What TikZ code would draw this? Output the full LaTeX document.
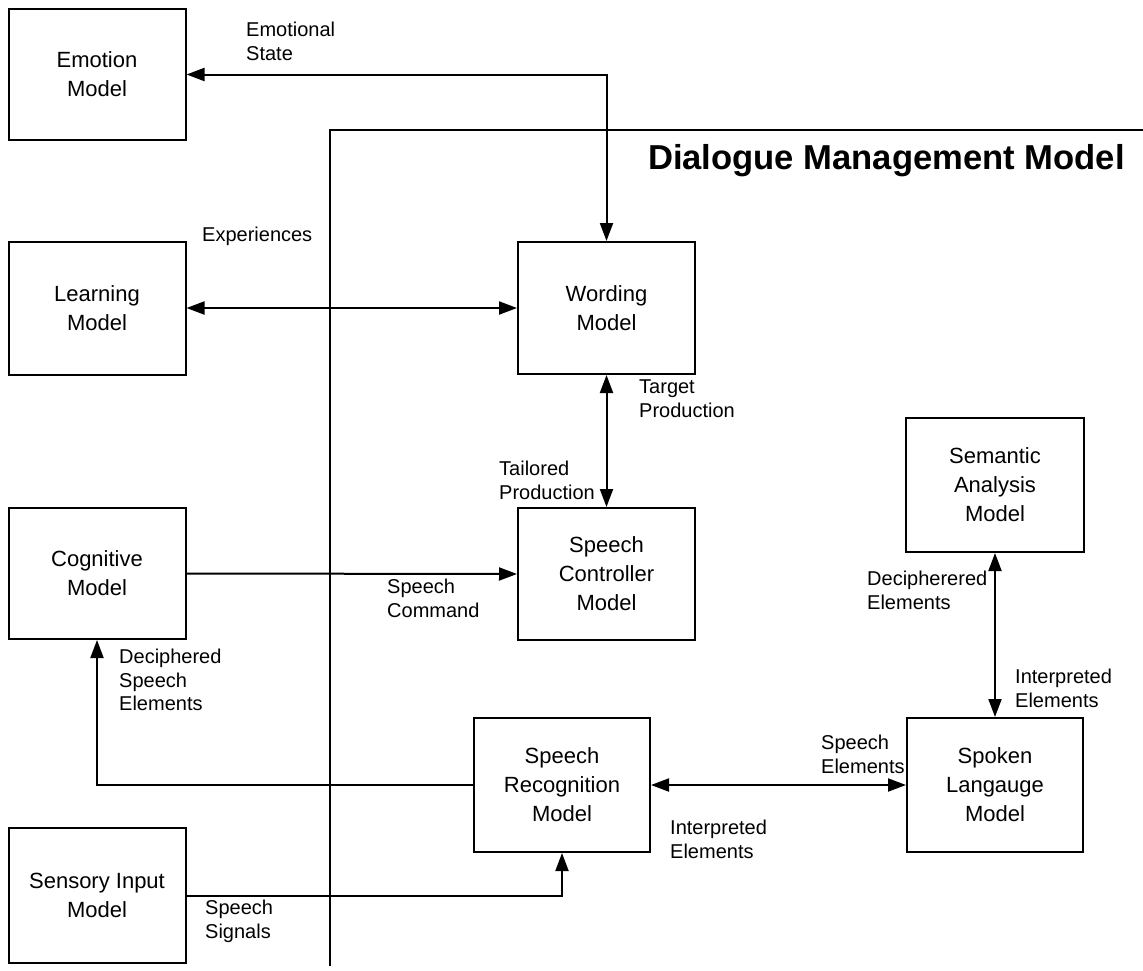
\documentclass[tikz,border=0pt]{standalone}
\usepackage{fontspec}
\setmainfont{Liberation Sans}
\usetikzlibrary{arrows.meta}
\begin{document}
\begin{tikzpicture}[x=1pt,y=-1pt,
  box/.style={draw,line width=2pt,align=center,inner sep=0pt,
    minimum width=177pt,minimum height=132pt,
    font=\fontsize{22}{29}\selectfont},
  lbl/.style={align=left,inner sep=0pt,anchor=north west,
    font=\fontsize{20}{23.5}\selectfont},
  tip/.tip={Triangle[length=18pt,width=13pt]},
  conn/.style={line width=2pt,tip-tip},
  oneway/.style={line width=2pt,-tip},
  frame/.style={line width=1.6pt}]
\useasboundingbox (0,0) rectangle (1143,970);

% model boxes
\node[box,minimum height=131pt] (emo) at (97,74.5) {Emotion\\Model};
\node[box,minimum height=133pt] (learn) at (97,308.5) {Learning\\Model};
\node[box,minimum height=131pt] (cog) at (97,573.5) {Cognitive\\Model};
\node[box,minimum height=135pt] (sens) at (97,895.5) {Sensory Input\\Model};
\node[box] (word) at (606.5,308) {Wording\\Model};
\node[box] (ctrl) at (606.5,574) {Speech\\Controller\\Model};
\node[box,minimum width=176pt,minimum height=134pt] (rec) at (562,785) {Speech\\Recognition\\Model};
\node[box,minimum width=176pt,minimum height=134pt] (spoken) at (995,785) {Spoken\\Langauge\\Model};
\node[box,minimum width=178pt,minimum height=134pt] (sem) at (995,485) {Semantic\\Analysis\\Model};

% dialogue management frame
\coordinate (fTop) at (330,130);
\coordinate (fRight) at (1143,130);
\coordinate (fBottom) at (330,966);
\draw[frame] (fBottom) -- (fTop) -- (fRight);
\node[anchor=base east,inner sep=0pt,font=\fontsize{34.6}{40}\selectfont\bfseries] (title) at (1125,169) {Dialogue Management Model};

% connectors
\draw[conn] (emo.east) -| (word.north);
\draw[conn] (learn.east |- word.west) -- (word.west);
\draw[conn] (word.south) -- (ctrl.north);
\draw[oneway] (cog.east) -- (ctrl.west);
\draw[oneway] (rec.west) -| (cog.south);
\draw[conn] (rec.east) -- (spoken.west);
\draw[oneway] (sens.east) -| (rec.south);
\draw[conn] (sem.south) -- (spoken.north);

% connector labels
\node[lbl] (lEmo) at (246,22) {Emotional\\State};
\node[lbl] (lExp) at (202,227) {Experiences};
\node[lbl] (lTarget) at (639,380) {Target\\Production};
\node[lbl] (lTail) at (499,461) {Tailored\\Production};
\node[lbl] (lCmd) at (387,579) {Speech\\Command};
\node[lbl] (lDec) at (119,649) {Deciphered\\Speech\\Elements};
\node[lbl] (lSE) at (821,735) {Speech\\Elements};
\node[lbl] (lIE) at (670,820) {Interpreted\\Elements};
\node[lbl] (lSig) at (205,900) {Speech\\Signals};
\node[lbl] (lDD) at (867,571) {Decipherered\\Elements};
\node[lbl] (lIE2) at (1015,669) {Interpreted\\Elements};
\end{tikzpicture}
\end{document}
